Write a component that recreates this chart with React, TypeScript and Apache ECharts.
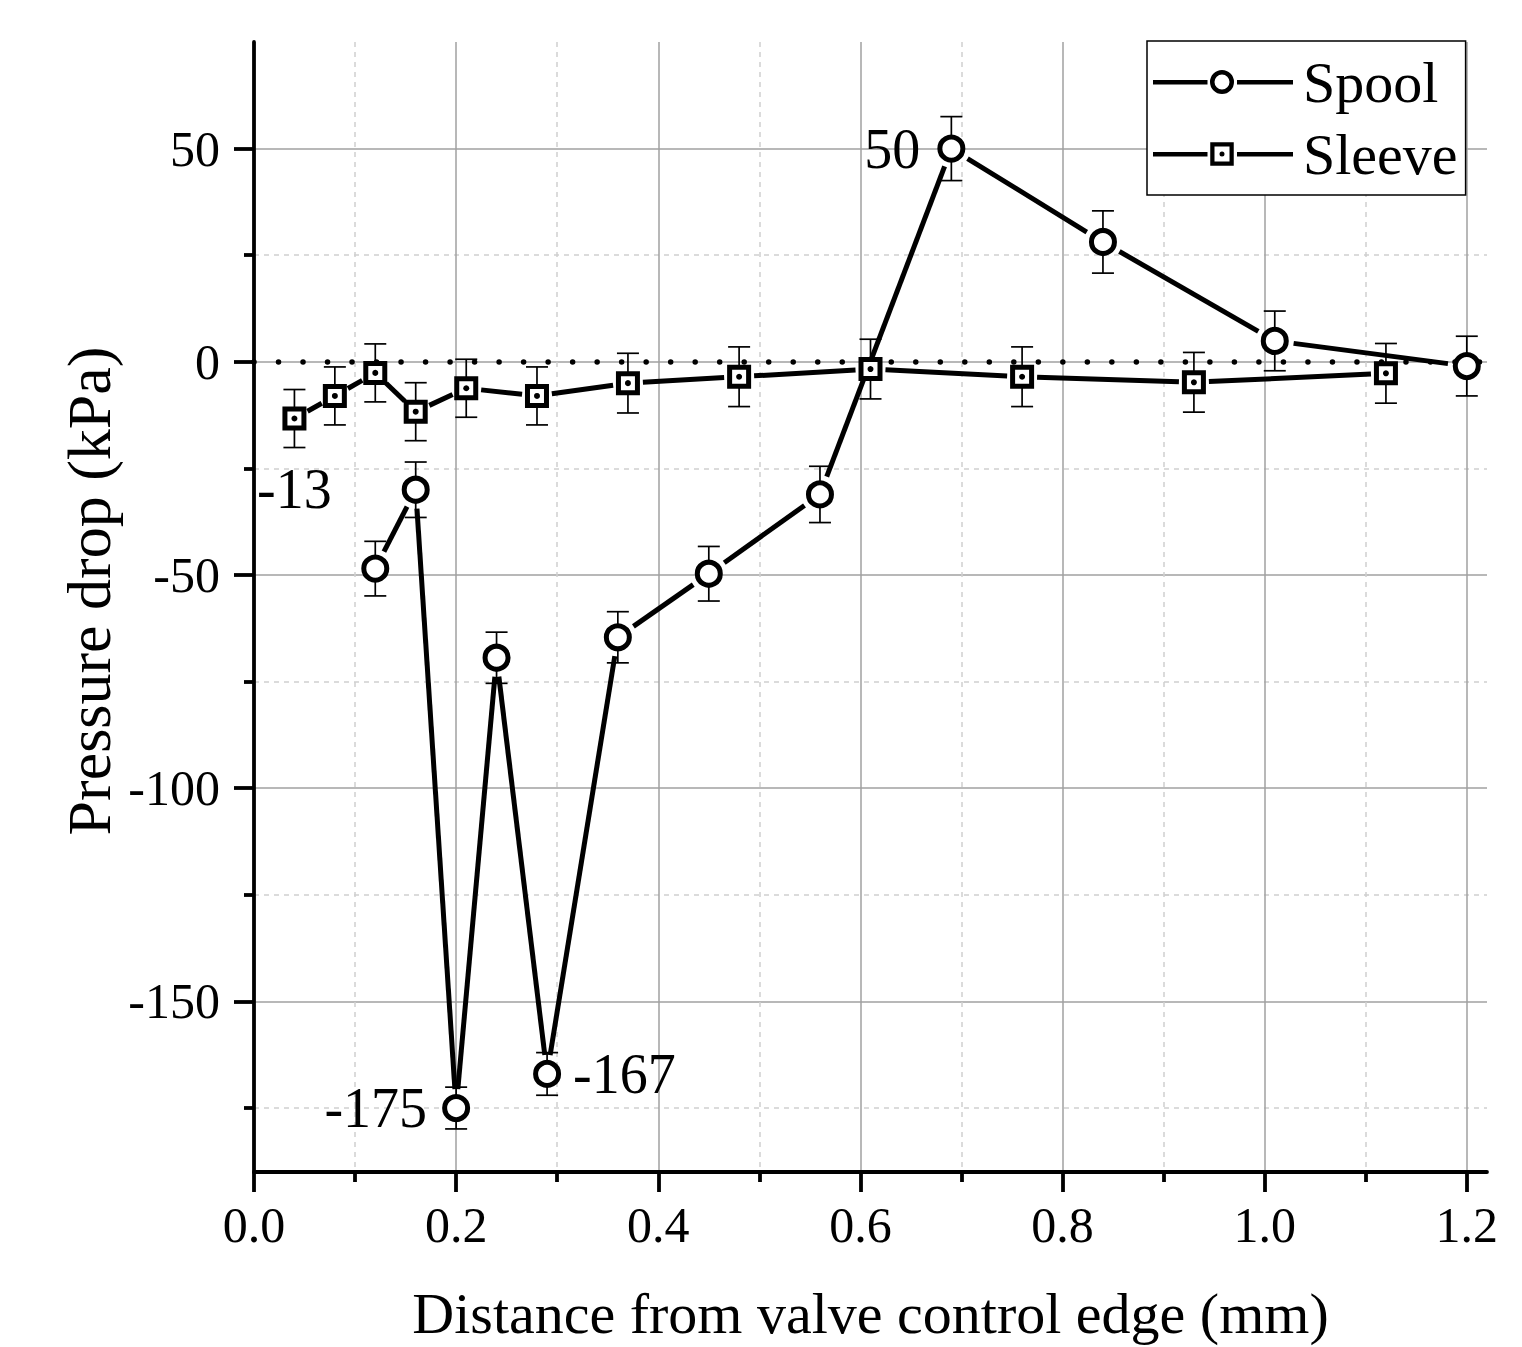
import React, { useEffect, useRef } from 'react';
import * as echarts from 'echarts';

// ---- Data ----
const spoolX = [0.12, 0.16, 0.2, 0.24, 0.29, 0.36, 0.45, 0.56, 0.69, 0.84, 1.01, 1.2];
const spoolY = [-48.5, -30, -175, -69.4, -167, -64.6, -49.7, -31.1, 50, 28.1, 4.9, -1];
const spoolErr = [6.4, 6.5, 4.9, 6, 5, 6, 6.4, 6.6, 7.5, 7.3, 7, 7];

const sleeveX = [0.04, 0.08, 0.12, 0.16, 0.21, 0.28, 0.37, 0.48, 0.61, 0.76, 0.93, 1.12];
const sleeveY = [-13.3, -8, -2.6, -11.7, -6.2, -8, -5, -3.5, -1.7, -3.5, -4.8, -2.7];
const sleeveErr = [6.8, 6.8, 6.8, 6.8, 6.8, 6.8, 7, 7, 7, 7, 7, 7];

const xMajorTicks = [0, 0.2, 0.4, 0.6, 0.8, 1.0, 1.2];
const xMinorTicks = [0.1, 0.3, 0.5, 0.7, 0.9, 1.1];
const yMajorTicks = [-150, -100, -50, 0, 50];
const yMinorTicks = [-175, -125, -75, -25, 25];
const xRange = [0, 1.22];
const yRange = [-190, 75];

const xTitle = 'Distance from valve control edge (mm)';
const yTitle = 'Pressure drop (kPa)';
const seriesNames = ['Spool', 'Sleeve'];

// label placement (style, kept apart from data)
const spoolLabelPlacement: Record<number, { position: string; distance: number }> = {
  2: { position: 'left', distance: 15 },
  4: { position: 'right', distance: 12 },
  8: { position: 'left', distance: 17 },
};
const sleeveLabelPlacement: Record<number, { position: string; distance: number }> = {
  0: { position: 'bottom', distance: 30 },
};

const FONT = '"Liberation Serif", "Times New Roman", serif';

const spoolIcon =
  'path://M0 10 H54.5 V14.5 H0 Z ' +
  'M81 12 A12 12 0 1 0 57 12 A12 12 0 1 0 81 12 Z ' +
  'M76.5 12 A7.5 7.5 0 1 1 61.5 12 A7.5 7.5 0 1 1 76.5 12 Z ' +
  'M84 10 H140 V14.5 H84 Z';
const sleeveIcon =
  'path://M0 10 H54.5 V14.5 H0 Z ' +
  'M57.25 0.25 H80.75 V23.75 H57.25 Z ' +
  'M61.5 4.5 V19.5 H76.5 V4.5 Z ' +
  'M71.5 12 A2.5 2.5 0 1 1 66.5 12 A2.5 2.5 0 1 1 71.5 12 Z ' +
  'M84 10 H140 V14.5 H84 Z';

function segments(xs: number[], ys: number[]) {
  return xs.slice(0, -1).map((x, i) => [x, ys[i], xs[i + 1], ys[i + 1]]);
}

function segmentRenderer(gap: number) {
  return (params: any, api: any) => {
    const a = api.coord([api.value(0), api.value(1)]);
    const b = api.coord([api.value(2), api.value(3)]);
    const dx = b[0] - a[0];
    const dy = b[1] - a[1];
    const len = Math.hypot(dx, dy);
    if (len <= 2 * gap) return null;
    const ux = dx / len;
    const uy = dy / len;
    return {
      type: 'line',
      shape: { x1: a[0] + ux * gap, y1: a[1] + uy * gap, x2: b[0] - ux * gap, y2: b[1] - uy * gap },
      style: { stroke: '#000', lineWidth: 5, lineCap: 'butt' },
    };
  };
}

function errorRenderer(params: any, api: any) {
  const x = api.value(0);
  const y = api.value(1);
  const e = api.value(2);
  const top = api.coord([x, y + e]);
  const bot = api.coord([x, y - e]);
  const hw = 11;
  const st = { stroke: '#000', lineWidth: 1.7 };
  return {
    type: 'group',
    children: [
      { type: 'line', shape: { x1: top[0], y1: top[1], x2: bot[0], y2: bot[1] }, style: st },
      { type: 'line', shape: { x1: top[0] - hw, y1: top[1], x2: top[0] + hw, y2: top[1] }, style: st },
      { type: 'line', shape: { x1: bot[0] - hw, y1: bot[1], x2: bot[0] + hw, y2: bot[1] }, style: st },
    ],
  };
}

function labelled(xs: number[], ys: number[], placement: Record<number, { position: string; distance: number }>) {
  return xs.map((x, i) => {
    const p = placement[i];
    if (!p) return { value: [x, ys[i]] };
    return {
      value: [x, ys[i]],
      label: {
        show: true,
        position: p.position,
        distance: p.distance,
        formatter: (prm: any) => String(Math.round(prm.value[1])),
        fontSize: 56,
        fontFamily: FONT,
        color: '#000',
      },
    };
  });
}

export default function App() {
  const ref = useRef<HTMLDivElement>(null);

  useEffect(() => {
    document.body.style.margin = '0';
    if (!ref.current) return;
    const chart = echarts.init(ref.current, null, { renderer: 'svg' });

    const axisLineStyle = { color: '#000', width: 3.8 };
    const majorSplit = { show: true, lineStyle: { color: '#a0a0a0', width: 1.5 } };
    const minorSplit = { show: true, lineStyle: { color: '#cfcfcf', width: 1.5, type: [5, 5] } };
    const tickFont = { fontSize: 50, fontFamily: FONT, color: '#000' };
    const titleFont = { fontSize: 58, fontFamily: FONT, color: '#000' };

    const option: any = {
      animation: false,
      backgroundColor: '#fff',
      grid: { left: 254, top: 42, right: 35, bottom: 175, containLabel: false, outerBoundsMode: 'none' },
      legend: {
        show: true,
        left: 1147,
        top: 41,
        orient: 'vertical',
        selectedMode: false,
        backgroundColor: '#fff',
        borderColor: '#000',
        borderWidth: 1.5,
        borderRadius: 0,
        padding: [12, 8, 12, 6],
        itemWidth: 140,
        itemHeight: 24,
        itemGap: 14,
        textStyle: { fontSize: 58, fontFamily: FONT, color: '#000', padding: [0, 0, 0, 5] },
        itemStyle: { color: '#000', borderColor: '#000', borderWidth: 0, opacity: 1 },
        data: [
          { name: seriesNames[0], icon: spoolIcon },
          { name: seriesNames[1], icon: sleeveIcon },
        ],
      },
      xAxis: [
        {
          type: 'value',
          min: xRange[0],
          max: xRange[1],
          position: 'bottom',
          name: xTitle,
          nameLocation: 'middle',
          nameGap: 112,
          nameMoveOverlap: false,
          nameTextStyle: titleFont,
          axisLine: { show: true, onZero: false, lineStyle: axisLineStyle },
          axisTick: { show: true, inside: false, length: 20, customValues: xMajorTicks, lineStyle: axisLineStyle },
          axisLabel: {
            show: true,
            customValues: xMajorTicks,
            formatter: (v: number) => v.toFixed(1),
            margin: 28,
            ...tickFont,
          },
          splitLine: majorSplit,
        },
        {
          type: 'value',
          min: xRange[0],
          max: xRange[1],
          position: 'bottom',
          axisLine: { show: false, onZero: false },
          axisTick: { show: true, inside: false, length: 10, customValues: xMinorTicks, lineStyle: axisLineStyle },
          axisLabel: { show: false, customValues: xMinorTicks },
          splitLine: minorSplit,
        },
      ],
      yAxis: [
        {
          type: 'value',
          min: yRange[0],
          max: yRange[1],
          position: 'left',
          name: yTitle,
          nameLocation: 'middle',
          nameGap: 134,
          nameMoveOverlap: false,
          nameTextStyle: { ...titleFont, fontSize: 62, padding: [0, 0, 0, 32] },
          axisLine: { show: true, onZero: false, lineStyle: axisLineStyle },
          axisTick: { show: true, inside: false, length: 20, customValues: yMajorTicks, lineStyle: axisLineStyle },
          axisLabel: { show: true, customValues: yMajorTicks, margin: 34, ...tickFont },
          splitLine: majorSplit,
        },
        {
          type: 'value',
          min: yRange[0],
          max: yRange[1],
          position: 'left',
          axisLine: { show: false, onZero: false },
          axisTick: { show: true, inside: false, length: 10, customValues: yMinorTicks, lineStyle: axisLineStyle },
          axisLabel: { show: false, customValues: yMinorTicks },
          splitLine: minorSplit,
        },
      ],
      series: [
        {
          name: 'spool-line',
          type: 'custom',
          renderItem: segmentRenderer(19),
          data: segments(spoolX, spoolY),
          encode: { x: [0, 2], y: [1, 3] },
          silent: true,
          z: 3,
        },
        {
          name: 'sleeve-line',
          type: 'custom',
          renderItem: segmentRenderer(15),
          data: segments(sleeveX, sleeveY),
          encode: { x: [0, 2], y: [1, 3] },
          silent: true,
          z: 3,
        },
        {
          name: 'spool-err',
          type: 'custom',
          renderItem: errorRenderer,
          data: spoolX.map((x, i) => [x, spoolY[i], spoolErr[i]]),
          encode: { x: 0, y: 1 },
          silent: true,
          z: 4,
        },
        {
          name: 'sleeve-err',
          type: 'custom',
          renderItem: errorRenderer,
          data: sleeveX.map((x, i) => [x, sleeveY[i], sleeveErr[i]]),
          encode: { x: 0, y: 1 },
          silent: true,
          z: 4,
          markLine: {
            silent: true,
            symbol: ['none', 'none'],
            label: { show: false },
            lineStyle: { color: '#000', width: 5.5, type: [0.01, 24.5], cap: 'round' },
            data: [{ yAxis: 0 }],
          },
        },
        {
          name: seriesNames[0],
          type: 'scatter',
          symbol: 'circle',
          symbolSize: 23,
          itemStyle: { color: '#fff', borderColor: '#000', borderWidth: 5, opacity: 1 },
          emphasis: { disabled: true },
          data: labelled(spoolX, spoolY, spoolLabelPlacement),
          z: 6,
        },
        {
          name: seriesNames[1],
          type: 'scatter',
          symbol: 'rect',
          symbolSize: 19,
          itemStyle: { color: '#fff', borderColor: '#000', borderWidth: 5, opacity: 1 },
          emphasis: { disabled: true },
          data: labelled(sleeveX, sleeveY, sleeveLabelPlacement),
          z: 6,
        },
        {
          name: 'sleeve-dot',
          type: 'scatter',
          symbol: 'circle',
          symbolSize: 6,
          itemStyle: { color: '#000', opacity: 1 },
          emphasis: { disabled: true },
          silent: true,
          data: sleeveX.map((x, i) => [x, sleeveY[i]]),
          z: 7,
        },
      ],
    };

    chart.setOption(option);
    return () => chart.dispose();
  }, []);

  return <div ref={ref} style={{ width: 1522, height: 1347 }} />;
}
